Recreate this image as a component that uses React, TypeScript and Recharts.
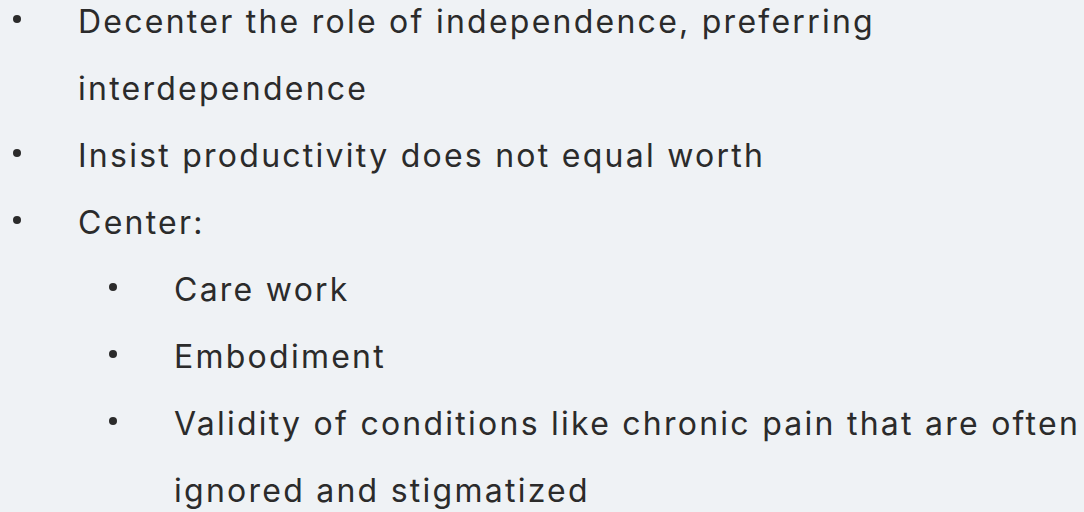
import React from "react";
import { ScatterChart, Scatter, XAxis, YAxis } from "recharts";

const lineTexts = [
  "Decenter the role of independence, preferring",
  "interdependence",
  "Insist productivity does not equal worth",
  "Center:",
  "Care work",
  "Embodiment",
  "Validity of conditions like chronic pain that are often",
  "ignored and stigmatized",
];
const lineLevels = [0, 0, 0, 0, 1, 1, 1, 1];
const lineBullets = [true, false, true, true, true, true, true, false];

const data = lineTexts.map((text, i) => ({
  level: lineLevels[i],
  row: i,
  text,
  bullet: lineBullets[i],
}));

const TEXT_COLOR = "#2b2b2b";
const FONT = "Inter, 'DejaVu Sans', sans-serif";

const LineShape = (props: any) => {
  const { cx, cy, payload } = props;
  return (
    <g>
      {payload.bullet && <circle cx={cx} cy={cy - 14} r={4} fill={TEXT_COLOR} />}
      <text
        x={cx + 61}
        y={cy}
        fill={TEXT_COLOR}
        fontFamily={FONT}
        fontSize={32}
        letterSpacing={2.25}
      >
        {payload.text}
      </text>
    </g>
  );
};

export default function App() {
  return (
    <div style={{ position: "fixed", left: 0, top: 0, width: 1084, height: 512, background: "#eff2f5" }}>
      <ScatterChart width={1084} height={512} margin={{ top: 33, right: 0, bottom: 10, left: 17 }}>
        <XAxis type="number" dataKey="level" domain={[0, 1067 / 96]} hide />
        <YAxis type="number" dataKey="row" domain={[0, 7]} reversed hide />
        <Scatter data={data} shape={<LineShape />} isAnimationActive={false} />
      </ScatterChart>
    </div>
  );
}
